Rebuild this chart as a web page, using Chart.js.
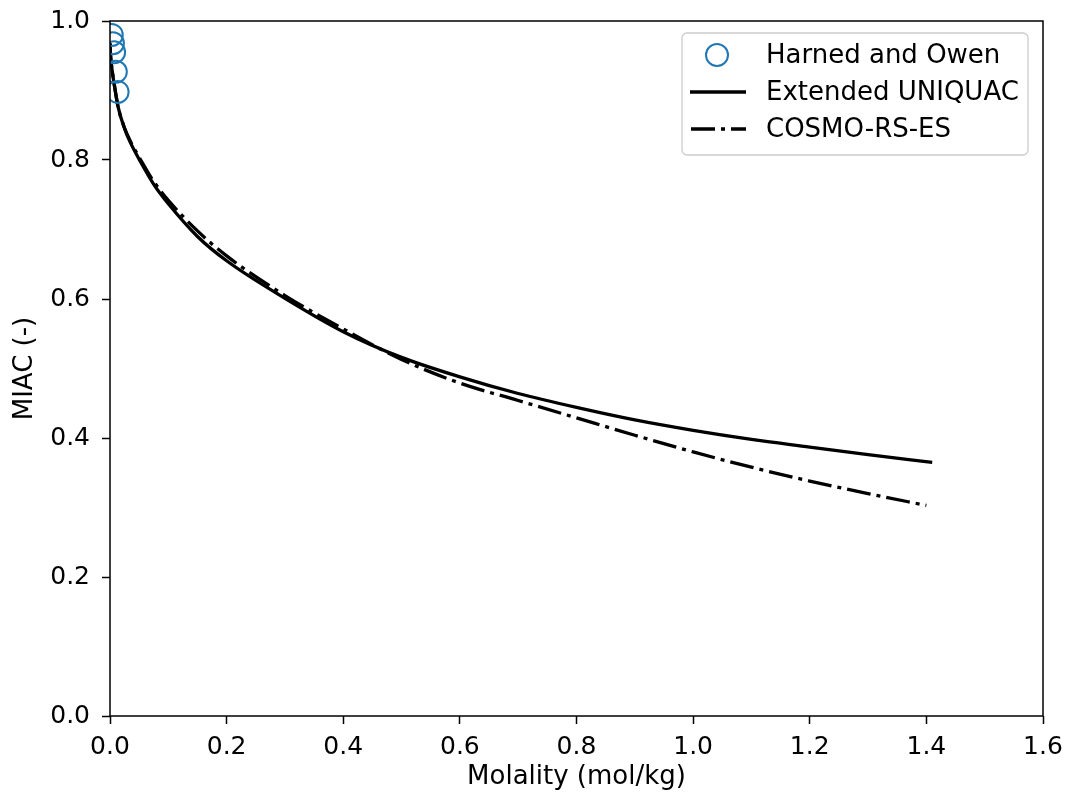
<!DOCTYPE html>
<html>
<head>
<meta charset="utf-8">
<script src="https://cdn.jsdelivr.net/npm/chart.js@4/dist/chart.umd.min.js"></script>
<style>
  html, body { margin: 0; padding: 0; background: #fff; }
  #wrap { width: 1069px; height: 800px; }
</style>
</head>
<body>
<div id="wrap"><canvas id="miacChart" width="1069" height="800"></canvas></div>
<script>
// ===== DATA =====
const expMolality = [0.003, 0.005, 0.007, 0.010, 0.013];
const expMiac     = [0.980, 0.968, 0.955, 0.927, 0.898];

const uniquacMolality = [0, 0.001, 0.004, 0.008, 0.014, 0.025, 0.035, 0.052, 0.075, 0.1, 0.15, 0.2, 0.3, 0.4, 0.5, 0.6, 0.7, 0.8, 0.9, 1.0, 1.1, 1.2, 1.3, 1.41];
const uniquacMiac     = [0.968, 0.95, 0.927, 0.905, 0.876, 0.845, 0.825, 0.798, 0.765, 0.737, 0.69, 0.655, 0.601, 0.553, 0.516, 0.488, 0.464, 0.444, 0.426, 0.411, 0.398, 0.387, 0.376, 0.365];

const cosmoMolality = [0, 0.001, 0.004, 0.008, 0.014, 0.025, 0.035, 0.052, 0.075, 0.1, 0.15, 0.2, 0.3, 0.4, 0.5, 0.6, 0.7, 0.8, 0.9, 1.0, 1.1, 1.2, 1.3, 1.4];
const cosmoMiac     = [0.968, 0.95, 0.927, 0.905, 0.876, 0.846, 0.827, 0.801, 0.769, 0.742, 0.698, 0.662, 0.605, 0.557, 0.513, 0.479, 0.454, 0.429, 0.404, 0.38, 0.358, 0.338, 0.32, 0.303];

const xTicks = [0, 0.2, 0.4, 0.6, 0.8, 1.0, 1.2, 1.4, 1.6];
const yTicks = [0, 0.2, 0.4, 0.6, 0.8, 1.0];

const SERIES = ['Harned and Owen', 'Extended UNIQUAC', 'COSMO-RS-ES'];
const BLUE = '#1f77b4';
const DASHDOT = [24, 6, 4, 6];
const FONT = "'DejaVu Sans', sans-serif";

const toPts = (xs, ys) => xs.map((x, i) => ({ x, y: ys[i] }));

// frame around the plot area (matplotlib spines) + legend box inside the axes
const framePlugin = {
  id: 'frame',
  afterDraw(chart) {
    const { ctx, chartArea: a } = chart;
    ctx.save();
    ctx.strokeStyle = '#000';
    ctx.lineWidth = 1.5;
    ctx.strokeRect(a.left, a.top, a.right - a.left, a.bottom - a.top);

    // legend
    const bx = 682, by = 33, bw = 346, bh = 122;
    ctx.beginPath();
    ctx.roundRect(bx, by, bw, bh, 5);
    ctx.fillStyle = 'rgba(255,255,255,0.8)';
    ctx.fill();
    ctx.strokeStyle = '#cccccc';
    ctx.lineWidth = 1.3;
    ctx.stroke();

    const rows = [55, 92, 129];
    ctx.font = `26px ${FONT}`;
    ctx.textBaseline = 'middle';
    ctx.textAlign = 'left';

    ctx.beginPath();
    ctx.arc(717, rows[0], 11, 0, Math.PI * 2);
    ctx.strokeStyle = BLUE;
    ctx.lineWidth = 2;
    ctx.stroke();

    ctx.strokeStyle = '#000';
    ctx.lineWidth = 3.3;
    ctx.beginPath();
    ctx.moveTo(690, rows[1]); ctx.lineTo(746, rows[1]);
    ctx.stroke();
    ctx.setLineDash(DASHDOT);
    ctx.beginPath();
    ctx.moveTo(691, rows[2]); ctx.lineTo(746, rows[2]);
    ctx.stroke();
    ctx.setLineDash([]);

    ctx.fillStyle = '#000';
    SERIES.forEach((s, i) => ctx.fillText(s, 766, rows[i] + 1));
    ctx.restore();
  },
};

const tickFont = { family: FONT, size: 25 };
const titleFont = { family: FONT, size: 26 };

new Chart(document.getElementById('miacChart'), {
  type: 'scatter',
  data: {
    datasets: [
      {
        label: SERIES[0],
        data: toPts(expMolality, expMiac),
        showLine: false,
        pointStyle: 'circle',
        pointRadius: 11,
        pointBorderWidth: 2,
        pointBorderColor: BLUE,
        pointBackgroundColor: 'rgba(0,0,0,0)',
        clip: { left: 0, top: 0, right: 0, bottom: 0 },
        order: 0,
      },
      {
        label: SERIES[1],
        data: toPts(uniquacMolality, uniquacMiac),
        showLine: true,
        borderColor: '#000',
        borderWidth: 3.3,
        pointRadius: 0,
        cubicInterpolationMode: 'monotone',
        order: 1,
      },
      {
        label: SERIES[2],
        data: toPts(cosmoMolality, cosmoMiac),
        showLine: true,
        borderColor: '#000',
        borderWidth: 3.3,
        borderDash: DASHDOT,
        pointRadius: 0,
        cubicInterpolationMode: 'monotone',
        order: 2,
      },
    ],
  },
  options: {
    responsive: false,
    animation: false,
    layout: { padding: { left: 0, right: 26, top: 21, bottom: 0 } },
    plugins: { legend: { display: false }, tooltip: { enabled: false } },
    scales: {
      x: {
        type: 'linear',
        min: 0, max: 1.6,
        afterFit: (s) => { s.height = 84; s.paddingLeft = 0; s.paddingRight = 0; },
        afterBuildTicks: (s) => { s.ticks = xTicks.map(v => ({ value: v })); },
        border: { display: false },
        grid: { drawOnChartArea: false, drawTicks: true, tickLength: 8, tickColor: '#000', tickWidth: 1.5 },
        ticks: { color: '#000', font: tickFont, padding: 8, maxRotation: 0, callback: v => v.toFixed(1) },
        title: { display: true, text: 'Molality (mol/kg)', color: '#000', font: titleFont, padding: { top: 4, bottom: 7 } },
      },
      y: {
        min: 0, max: 1.0,
        afterFit: (s) => { s.width = 110; s.paddingTop = 0; s.paddingBottom = 0; },
        afterBuildTicks: (s) => { s.ticks = yTicks.map(v => ({ value: v })); },
        border: { display: false },
        grid: { drawOnChartArea: false, drawTicks: true, tickLength: 8, tickColor: '#000', tickWidth: 1.5 },
        ticks: { color: '#000', font: tickFont, padding: 12, callback: v => v.toFixed(1) },
        title: { display: true, text: 'MIAC (-)', color: '#000', font: titleFont, padding: { top: 10, bottom: 4 } },
      },
    },
  },
  plugins: [framePlugin],
});
</script>
</body>
</html>
